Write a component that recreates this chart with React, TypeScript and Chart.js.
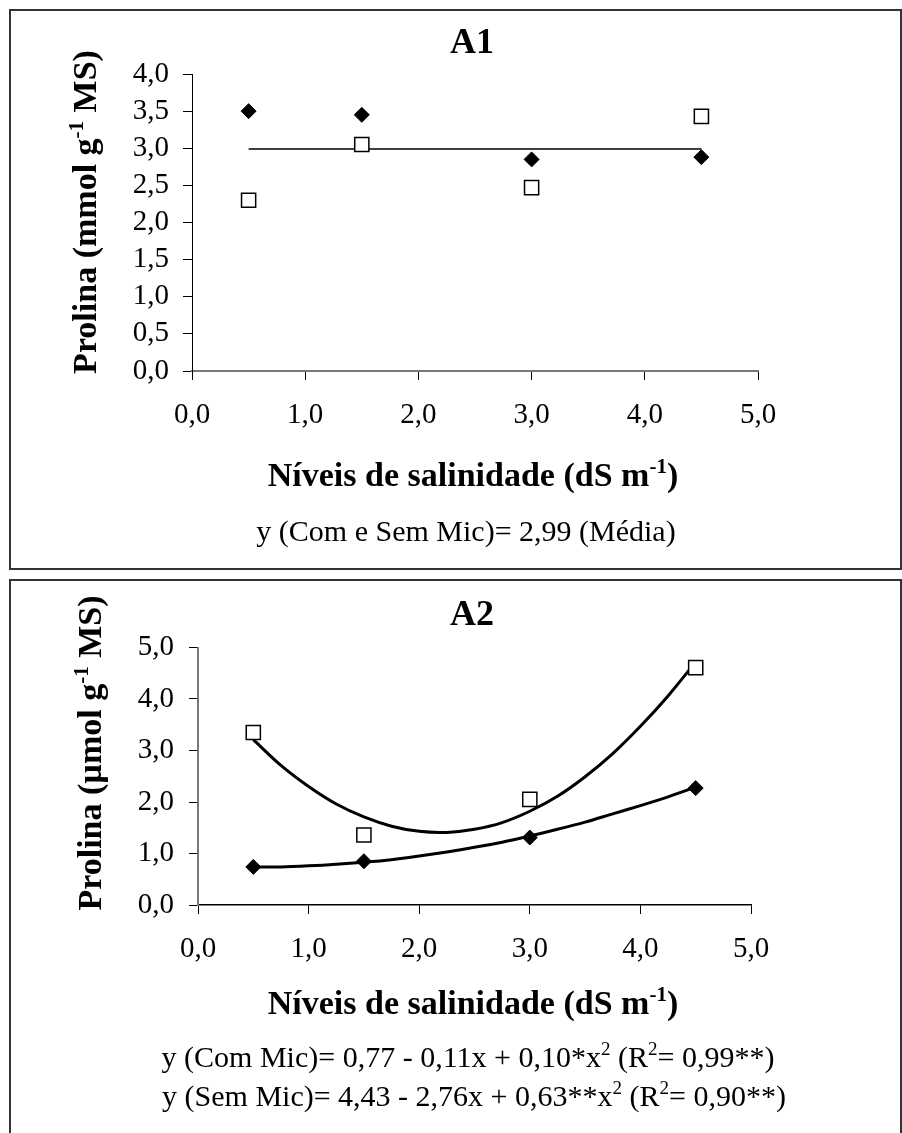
import React, { useEffect, useRef } from "react";
import { Chart, registerables } from "chart.js";

Chart.register(...registerables);

// ---------- data ----------
const xLevels = [0.5, 1.5, 3.0, 4.5];
const xTickValues = [0, 1, 2, 3, 4, 5];

// Panel A1
const a1ComMic = [3.5, 3.45, 2.85, 2.88];
const a1SemMic = [2.3, 3.05, 2.47, 3.43];
const a1MeanX = [0.5, 4.5];
const a1MeanY = [2.99, 2.99];
const a1YTickValues = [0, 0.5, 1, 1.5, 2, 2.5, 3, 3.5, 4];

// Panel A2
const a2ComMic = [0.74, 0.85, 1.31, 2.27];
const a2SemMic = [3.35, 1.36, 2.05, 4.61];
const a2CurveX = [0.5, 0.75, 1.0, 1.25, 1.5, 1.75, 2.0, 2.25, 2.5, 2.75, 3.0, 3.25, 3.5, 3.75, 4.0, 4.25, 4.5];
const a2ComMicCurve = [0.74, 0.74, 0.76, 0.79, 0.83, 0.88, 0.95, 1.03, 1.12, 1.22, 1.34, 1.47, 1.61, 1.77, 1.93, 2.1, 2.29];
const a2SemMicCurve = [3.21, 2.71, 2.3, 1.96, 1.71, 1.53, 1.43, 1.41, 1.47, 1.6, 1.82, 2.11, 2.49, 2.94, 3.47, 4.06, 4.72];
const a2YTickValues = [0, 1, 2, 3, 4, 5];

const FAMILY = "'Liberation Serif', 'Times New Roman', Times, serif";

type Seg = { t: string; sup?: boolean };

function drawRich(
  ctx: CanvasRenderingContext2D,
  segs: Seg[],
  cx: number,
  cy: number,
  size: number,
  bold: boolean,
  rotate = false,
  sx = 1
) {
  ctx.save();
  const w = bold ? "bold " : "";
  const fMain = `${w}${size}px ${FAMILY}`;
  const fSup = `${w}${Math.round(size * 0.62)}px ${FAMILY}`;
  let total = 0;
  const widths = segs.map((s) => {
    ctx.font = s.sup ? fSup : fMain;
    const m = ctx.measureText(s.t).width;
    total += m;
    return m;
  });
  ctx.translate(cx, cy);
  if (rotate) ctx.rotate(-Math.PI / 2);
  ctx.scale(sx, 1);
  ctx.fillStyle = "#000";
  ctx.textBaseline = "alphabetic";
  ctx.textAlign = "left";
  let x = -total / 2;
  const base = size * 0.33;
  segs.forEach((s, i) => {
    ctx.font = s.sup ? fSup : fMain;
    ctx.fillText(s.t, x, s.sup ? base - size * 0.4 : base);
    x += widths[i];
  });
  ctx.restore();
}

const fmt = (v: any) => Number(v).toFixed(1).replace(".", ",");
const pts = (xs: number[], ys: number[]) => xs.map((x, i) => ({ x, y: ys[i] }));

function makeScales(opts: {
  yTicks: number[];
  yMax: number;
  yWidth: number;
  xHeight: number;
  yLabelPad: number;
  xBorder: string;
  yBorder: string;
  xBorderW: number;
  yBorderW: number;
}) {
  const tickFont = { family: FAMILY, size: 29, lineHeight: 1.2 };
  return {
    x: {
      type: "linear" as const,
      min: 0,
      max: 5,
      afterBuildTicks: (s: any) => {
        s.ticks = xTickValues.map((v) => ({ value: v }));
      },
      afterFit: (s: any) => {
        s.height = opts.xHeight;
      },
      ticks: { color: "#000", font: tickFont, padding: 18, callback: fmt, maxRotation: 0, autoSkip: false },
      grid: { drawOnChartArea: false, drawTicks: true, tickLength: 9, color: "#000", lineWidth: 1 },
      border: { display: true, color: opts.xBorder, width: opts.xBorderW },
    },
    y: {
      type: "linear" as const,
      min: 0,
      max: opts.yMax,
      afterBuildTicks: (s: any) => {
        s.ticks = opts.yTicks.map((v) => ({ value: v }));
      },
      afterFit: (s: any) => {
        s.width = opts.yWidth;
      },
      ticks: { color: "#000", font: tickFont, padding: opts.yLabelPad, callback: fmt, autoSkip: false },
      grid: { drawOnChartArea: false, drawTicks: true, tickLength: 9, color: "#000", lineWidth: 1 },
      border: { display: true, color: opts.yBorder, width: opts.yBorderW },
    },
  };
}

export default function App() {
  const ref1 = useRef<HTMLCanvasElement>(null);
  const ref2 = useRef<HTMLCanvasElement>(null);

  useEffect(() => {
    const c1 = ref1.current!;
    const c2 = ref2.current!;

    // ----- Panel A1 (canvas at page y=0, 902x575) -----
    const textPlugin1 = {
      id: "texts1",
      afterDraw(chart: any) {
        const ctx = chart.ctx as CanvasRenderingContext2D;
        drawRich(ctx, [{ t: "A1" }], 472, 41, 36, true);
        drawRich(ctx, [{ t: "Prolina (mmol g" }, { t: "-1", sup: true }, { t: " MS)" }], 85, 212, 34, true, true);
        drawRich(ctx, [{ t: "Níveis de salinidade (dS m" }, { t: "-1", sup: true }, { t: ")" }], 473, 475, 34, true);
        drawRich(ctx, [{ t: "y (Com e Sem Mic)= 2,99 (Média)" }], 466, 531, 30, false);
      },
    };

    const chart1 = new Chart(c1, {
      type: "scatter",
      data: {
        datasets: [
          {
            label: "Com Mic",
            data: pts(xLevels, a1ComMic),
            pointStyle: "rectRot",
            pointRadius: 7.5,
            backgroundColor: "#000",
            borderColor: "#000",
            borderWidth: 1,
            order: 0,
          },
          {
            label: "Sem Mic",
            data: pts(xLevels, a1SemMic),
            pointStyle: "rect",
            pointRadius: 10,
            backgroundColor: "#fff",
            borderColor: "#000",
            borderWidth: 1.5,
            order: 0,
          },
          {
            type: "line",
            label: "Média",
            data: pts(a1MeanX, a1MeanY),
            borderColor: "#000",
            borderWidth: 1.5,
            pointRadius: 0,
            fill: false,
            order: 1,
          } as any,
        ],
      },
      options: {
        animation: false,
        responsive: false,
        devicePixelRatio: 1,
        layout: { padding: { top: 74, right: 144, left: 0, bottom: 0 } },
        plugins: { legend: { display: false }, title: { display: false }, tooltip: { enabled: false } },
        scales: makeScales({
          yTicks: a1YTickValues,
          yMax: 4,
          yWidth: 192,
          xHeight: 204,
          yLabelPad: 14,
          xBorder: "#777",
          yBorder: "#000",
          xBorderW: 2,
          yBorderW: 1,
        }) as any,
      },
      plugins: [textPlugin1],
    });

    // ----- Panel A2 (canvas at page y=575, 902x558) -----
    const oy = 575;
    const textPlugin2 = {
      id: "texts2",
      afterDraw(chart: any) {
        const ctx = chart.ctx as CanvasRenderingContext2D;
        drawRich(ctx, [{ t: "A2" }], 472, 613 - oy, 36, true);
        drawRich(ctx, [{ t: "Prolina (µmol g" }, { t: "-1", sup: true }, { t: " MS)" }], 90, 753 - oy, 34, true, true);
        drawRich(ctx, [{ t: "Níveis de salinidade (dS m" }, { t: "-1", sup: true }, { t: ")" }], 473, 1003 - oy, 34, true);
        drawRich(
          ctx,
          [
            { t: "y (Com Mic)= 0,77 - 0,11x + 0,10*x" },
            { t: "2", sup: true },
            { t: " (R" },
            { t: "2", sup: true },
            { t: "= 0,99**)" },
          ],
          468,
          1057 - oy,
          30,
          false
        );
        drawRich(
          ctx,
          [
            { t: "y (Sem Mic)= 4,43 - 2,76x + 0,63**x" },
            { t: "2", sup: true },
            { t: " (R" },
            { t: "2", sup: true },
            { t: "= 0,90**)" },
          ],
          474,
          1096 - oy,
          30,
          false
        );
      },
    };

    const chart2 = new Chart(c2, {
      type: "scatter",
      data: {
        datasets: [
          {
            label: "Com Mic",
            data: pts(xLevels, a2ComMic),
            pointStyle: "rectRot",
            pointRadius: 7.5,
            backgroundColor: "#000",
            borderColor: "#000",
            borderWidth: 1,
            order: 0,
          },
          {
            label: "Sem Mic",
            data: pts(xLevels, a2SemMic),
            pointStyle: "rect",
            pointRadius: 10,
            backgroundColor: "#fff",
            borderColor: "#000",
            borderWidth: 1.5,
            order: 0,
          },
          {
            type: "line",
            label: "Com Mic (ajuste)",
            data: pts(a2CurveX, a2ComMicCurve),
            borderColor: "#000",
            borderWidth: 3,
            pointRadius: 0,
            tension: 0.3,
            fill: false,
            order: 1,
          } as any,
          {
            type: "line",
            label: "Sem Mic (ajuste)",
            data: pts(a2CurveX, a2SemMicCurve),
            borderColor: "#000",
            borderWidth: 3,
            pointRadius: 0,
            tension: 0.3,
            fill: false,
            order: 1,
          } as any,
        ],
      },
      options: {
        animation: false,
        responsive: false,
        devicePixelRatio: 1,
        layout: { padding: { top: 72.5, right: 151, left: 0, bottom: 0 } },
        plugins: { legend: { display: false }, title: { display: false }, tooltip: { enabled: false } },
        scales: makeScales({
          yTicks: a2YTickValues,
          yMax: 5,
          yWidth: 198,
          xHeight: 228,
          yLabelPad: 15,
          xBorder: "#000",
          yBorder: "#777",
          xBorderW: 1.5,
          yBorderW: 2,
        }) as any,
      },
      plugins: [textPlugin2],
    });

    return () => {
      chart1.destroy();
      chart2.destroy();
    };
  }, []);

  return (
    <div
      style={{
        position: "absolute",
        left: 0,
        top: 0,
        width: 902,
        height: 1133,
        overflow: "hidden",
        background: "#fff",
      }}
    >
      <div
        style={{
          position: "absolute",
          left: 9,
          top: 9,
          width: 893,
          height: 561,
          boxSizing: "border-box",
          border: "2px solid #333",
        }}
      />
      <div
        style={{
          position: "absolute",
          left: 9,
          top: 579,
          width: 893,
          height: 620,
          boxSizing: "border-box",
          border: "2px solid #333",
        }}
      />
      <canvas
        ref={ref1}
        width={902}
        height={575}
        style={{ position: "absolute", left: 0, top: 0, width: 902, height: 575 }}
      />
      <canvas
        ref={ref2}
        width={902}
        height={558}
        style={{ position: "absolute", left: 0, top: 575, width: 902, height: 558 }}
      />
    </div>
  );
}
